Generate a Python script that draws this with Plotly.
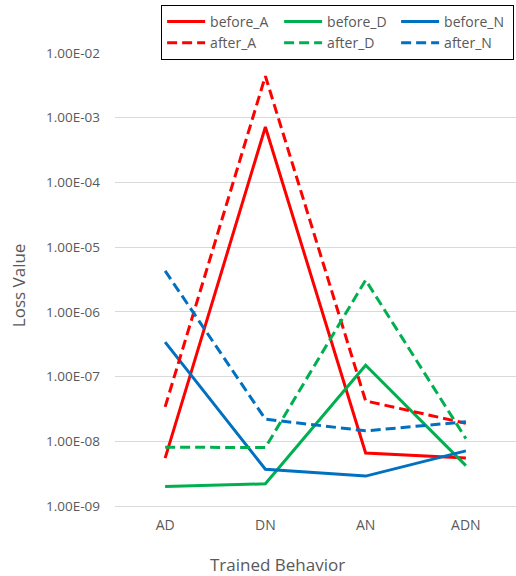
import plotly.graph_objects as go

categories = ["AD", "DN", "AN", "ADN"]

before_A = [5.5e-9, 7.2e-4, 6.6e-9, 5.5e-9]
before_D = [2.0e-9, 2.2e-9, 1.5e-7, 4.2e-9]
before_N = [3.4e-7, 3.7e-9, 2.9e-9, 7.1e-9]
after_A = [3.4e-8, 4.4e-3, 4.2e-8, 1.9e-8]
after_D = [8.1e-9, 8.0e-9, 3.1e-6, 1.1e-8]
after_N = [4.3e-6, 2.2e-8, 1.45e-8, 2.0e-8]

tick_vals = [1e-9, 1e-8, 1e-7, 1e-6, 1e-5, 1e-4, 1e-3, 1e-2]
tick_text = ["1.00E-09", "1.00E-08", "1.00E-07", "1.00E-06",
             "1.00E-05", "1.00E-04", "1.00E-03", "1.00E-02"]

RED, GREEN, BLUE = "#FF0000", "#00B050", "#0070C0"
GRAY = "#595959"
FONT = "Open Sans"

series = [
    ("before_A", before_A, RED, "solid"),
    ("before_D", before_D, GREEN, "solid"),
    ("before_N", before_N, BLUE, "solid"),
    ("after_A", after_A, RED, "10px,5px"),
    ("after_D", after_D, GREEN, "10px,5px"),
    ("after_N", after_N, BLUE, "10px,5px"),
]

fig = go.Figure()
for name, vals, color, dash in series:
    fig.add_trace(go.Scatter(
        x=categories, y=vals, name=name, mode="lines",
        line=dict(color=color, width=3, dash=dash),
    ))

fig.update_layout(
    width=516, height=576,
    margin=dict(l=115, r=0, t=53, b=70, autoexpand=False),
    paper_bgcolor="white", plot_bgcolor="white",
    font=dict(family=FONT, color=GRAY, size=12),
    showlegend=True,
    legend=dict(
        orientation="h", x=0.115, y=1.106, xanchor="left", yanchor="top",
        bordercolor="black", borderwidth=1, bgcolor="white",
        font=dict(family=FONT, size=14, color=GRAY),
        entrywidth=64, itemwidth=38, tracegroupgap=0,
        traceorder="normal",
    ),
    xaxis=dict(
        type="category", range=[-0.5, 3.5],
        showgrid=False, showline=True, linecolor="#D9D9D9", linewidth=1,
        ticks="", tickfont=dict(size=14, color=GRAY), ticklabelstandoff=6,
        zeroline=False,
    ),
    yaxis=dict(
        type="log", range=[-9, -2],
        tickvals=tick_vals, ticktext=tick_text,
        showgrid=True, gridcolor="#D9D9D9", gridwidth=1,
        showline=False, ticks="", ticklabelstandoff=14,
        tickfont=dict(size=13.5, color=GRAY), zeroline=False,
    ),
    annotations=[
        dict(text="Loss Value", xref="paper", yref="paper",
             x=-0.24, y=0.487, xanchor="center", yanchor="middle",
             textangle=-90, showarrow=False,
             font=dict(family=FONT, size=17, color=GRAY)),
        dict(text="Trained Behavior", xref="paper", yref="paper",
             x=0.404, y=-0.13, xanchor="center", yanchor="middle",
             showarrow=False,
             font=dict(family=FONT, size=17, color=GRAY)),
    ],
)

fig.write_html("out.html", config={"displayModeBar": False},
               post_script="document.body.style.margin='0';")
